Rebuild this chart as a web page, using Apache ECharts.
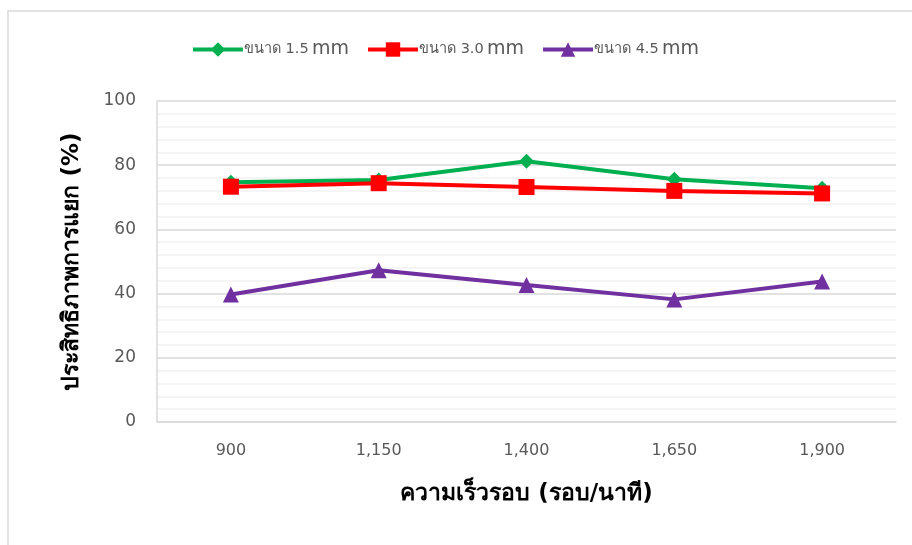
<!DOCTYPE html>
<html><head><meta charset="utf-8">
<script src="https://cdn.jsdelivr.net/npm/echarts@6/dist/echarts.min.js"></script>
<style>html,body{margin:0;padding:0;background:#fff}#c{width:912px;height:545px}</style>
</head><body><div id="c"></div>
<script>
const categories = ['900', '1,150', '1,400', '1,650', '1,900'];
const seriesNames = ['ขนาด 1.5 mm', 'ขนาด 3.0 mm', 'ขนาด 4.5 mm'];
const size15 = [74.7, 75.4, 81.2, 75.6, 72.8];
const size30 = [73.3, 74.4, 73.2, 72.0, 71.2];
const size45 = [39.7, 47.3, 42.7, 38.2, 43.8];
const yTicks = [0, 20, 40, 60, 80, 100];

const chart = echarts.init(document.getElementById('c'), null, {renderer: 'canvas'});
const base = "'DejaVu Sans', 'Noto Sans', sans-serif";
function mk(name, data, color, symbol, size) {
  return {
    name, type: 'line', data, symbol, symbolSize: size,
    lineStyle: {color, width: 4}, itemStyle: {color},
    emphasis: {disabled: true}, z: 3
  };
}
chart.setOption({
  animation: false,
  backgroundColor: '#fff',
  graphic: [{type: 'rect', shape: {x: 8, y: 11, width: 1200, height: 1200},
    style: {fill: 'none', stroke: '#d9d9d9', lineWidth: 1.5}, silent: true}],
  legend: {
    left: 186, top: 35, itemWidth: 50, itemHeight: 18, itemGap: 17,
    data: seriesNames,
    lineStyle: {width: 4},
    formatter: function (n) { const p = n.split(' mm'); return '{a|' + p[0] + '} {b|mm}'; },
    textStyle: {
      padding: [0, 0, 0, -4],
      rich: {
        a: {fontSize: 14.5, color: '#595959', fontFamily: base},
        b: {fontSize: 19, color: '#595959', fontFamily: base}
      }
    }
  },
  grid: {left: 157, right: 16, top: 101, bottom: 123, containLabel: false},
  xAxis: {
    type: 'category', data: categories, boundaryGap: true,
    axisLine: {lineStyle: {color: '#d9d9d9', width: 1.5}},
    axisTick: {show: false},
    axisLabel: {color: '#595959', fontSize: 16, margin: 21, fontFamily: base},
    name: 'ความเร็วรอบ (รอบ/นาที)', nameLocation: 'middle', nameGap: 61,
    nameTextStyle: {fontSize: 23, fontWeight: 'bold', color: '#000', fontFamily: base}
  },
  yAxis: {
    type: 'value', min: yTicks[0], max: yTicks[yTicks.length - 1], interval: 20,
    axisLine: {show: true, lineStyle: {color: '#d9d9d9', width: 1.5}},
    axisTick: {show: false},
    axisLabel: {color: '#595959', fontSize: 17, margin: 21, fontFamily: base},
    splitLine: {lineStyle: {color: '#d9d9d9', width: 1.5}},
    minorTick: {show: false, splitNumber: 5},
    minorSplitLine: {show: true, lineStyle: {color: '#f2f2f2', width: 1.5}},
    name: 'ประสิทธิภาพการแยก (%)', nameLocation: 'middle', nameGap: 73, nameRotate: 90,
    nameTextStyle: {fontSize: 23, fontWeight: 'bold', color: '#000', fontFamily: base}
  },
  series: [
    mk(seriesNames[0], size15, '#00B050', 'diamond', 15),
    mk(seriesNames[1], size30, '#FF0000', 'rect', 16),
    mk(seriesNames[2], size45, '#7030A0', 'triangle', 16)
  ]
});
</script></body></html>
